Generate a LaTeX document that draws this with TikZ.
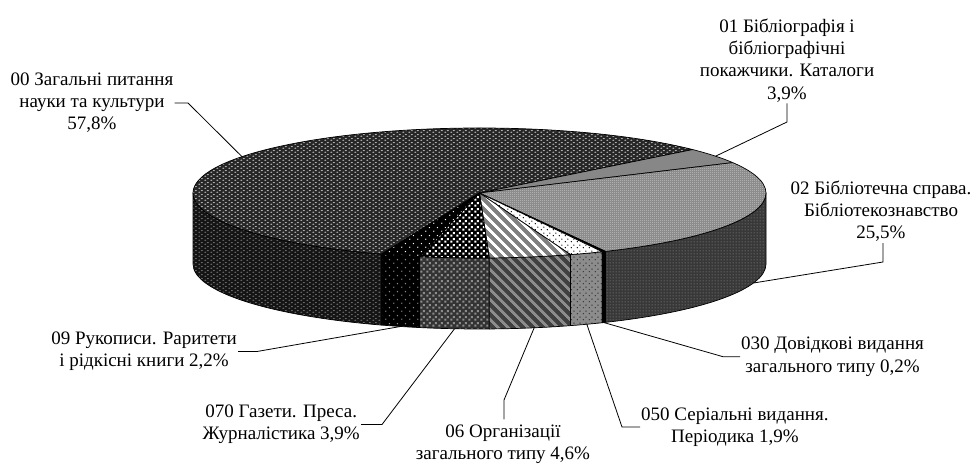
\documentclass[tikz,border=0pt]{standalone}
\usepackage{fontspec}
\setmainfont{Liberation Serif}
\usetikzlibrary{patterns, patterns.meta, calc}

% fill patterns of the slices
\tikzdeclarepattern{name=stagdots, type=uncolored,
  bounding box={(0pt,0pt) and (6pt,4pt)}, tile size={(6pt,4pt)},
  code={\fill (1.5pt,1pt) ellipse (1.3pt and 0.8pt); \fill (4.5pt,3pt) ellipse (1.3pt and 0.8pt);}}
\tikzdeclarepattern{name=finecheck, type=uncolored,
  bounding box={(0pt,0pt) and (2pt,2pt)}, tile size={(2pt,2pt)},
  code={\fill (0pt,0pt) rectangle (1pt,1pt); \fill (1pt,1pt) rectangle (2pt,2pt);}}
\tikzdeclarepattern{name=finedots, type=uncolored,
  bounding box={(0pt,0pt) and (3pt,3pt)}, tile size={(3pt,3pt)},
  code={\fill (1.5pt,1.5pt) circle (0.7pt);}}
\tikzdeclarepattern{name=sparsedots, type=uncolored,
  bounding box={(0pt,0pt) and (6pt,6pt)}, tile size={(6pt,6pt)},
  code={\fill (1.5pt,1.5pt) circle (0.8pt); \fill (4.5pt,4.5pt) circle (0.8pt);}}
\tikzdeclarepattern{name=bigsquares, type=uncolored,
  bounding box={(0pt,0pt) and (6pt,6pt)}, tile size={(6pt,6pt)},
  code={\fill (0.3pt,0.3pt) rectangle (2.7pt,2.7pt); \fill (3.3pt,3.3pt) rectangle (5.7pt,5.7pt);}}
\tikzdeclarepattern{name=widedots, type=uncolored,
  bounding box={(0pt,0pt) and (8pt,8pt)}, tile size={(8pt,8pt)},
  code={\fill (2pt,2pt) circle (0.8pt); \fill (6pt,6pt) circle (0.8pt);}}
\tikzdeclarepattern{name=stripes, type=uncolored,
  bounding box={(0pt,0pt) and (7pt,7pt)}, tile size={(7pt,7pt)},
  tile transformation={rotate=-45},
  code={\fill (0pt,0pt) rectangle (7pt,3pt);}}

\tikzset{
  edge/.style={draw=black, line width=0.7pt, line join=round},
  top00/.style={edge, preaction={fill=black!85}, pattern=stagdots, pattern color=black!25},
  side00/.style={edge, preaction={fill=black!92}, pattern=stagdots, pattern color=black!55},
  top01/.style={edge, fill=black!47},
  top02/.style={edge, preaction={fill=black!50}, pattern=finecheck, pattern color=black!12},
  side02/.style={edge, preaction={fill=black!78}, pattern=finedots, pattern color=black!50},
  top030/.style={edge, fill=black},
  side030/.style={edge, fill=black},
  top050/.style={edge, preaction={fill=white}, pattern=sparsedots, pattern color=black},
  side050/.style={edge, preaction={fill=black!45}, pattern=sparsedots, pattern color=black!80},
  top06/.style={edge, preaction={fill=black!50}, pattern=stripes, pattern color=white},
  side06/.style={edge, preaction={fill=black!75}, pattern=stripes, pattern color=black!45},
  top070/.style={edge, preaction={fill=black}, pattern=bigsquares, pattern color=white},
  side070/.style={edge, preaction={fill=black!80}, pattern=bigsquares, pattern color=black!45},
  top09/.style={edge, preaction={fill=black}, pattern=widedots, pattern color=white},
  side09/.style={edge, preaction={fill=black}, pattern=widedots, pattern color=black!45},
  lbl/.style={align=center, inner sep=1pt, font=\fontsize{19}{22.3}\selectfont},
  lead/.style={draw, line width=0.8pt},
}

\begin{document}
\begin{tikzpicture}[x=1pt, y=1pt]

    \def \rx {286.5pt}
    \def \ry {65pt}
    \def \depth {71}

    \useasboundingbox (0,0) rectangle (973,465);

    \begin{scope}[shift={(479.5,272)}]
      % walls of the front half
      \foreach \s/\a/\b in {00/180/250, 09/250/257.92, 070/257.92/271.96, 06/271.96/288.52,
                            050/288.52/295.36, 030/295.36/296.08, 02/296.08/360}
      {
        \draw[side\s] (\a:286.5pt and 65pt) arc[start angle=\a, end angle=\b, x radius=\rx, y radius=\ry]
          -- ++(0,-\depth) arc[start angle=\b, end angle=\a, x radius=\rx, y radius=\ry] -- cycle;
      }
      % top faces
      \foreach \s/\a/\b in {00/41.92/250, 01/27.88/41.92, 02/-63.92/27.88, 030/-64.64/-63.92,
                            050/-71.48/-64.64, 06/-88.04/-71.48, 070/-102.08/-88.04, 09/-110/-102.08}
      {
        \draw[top\s] (0,0) -- (\a:286.5pt and 65pt) arc[start angle=\a, end angle=\b, x radius=\rx, y radius=\ry] -- cycle;
      }
      % where the leaders touch the pie
      \coordinate (p00) at (146:286.5pt and 65pt);
      \coordinate (p01) at (34.5:286.5pt and 65pt);
      \path (-17:286.5pt and 65pt) ++(0,-\depth) coordinate (p02);
      \path (-64.28:286.5pt and 65pt) ++(0,-\depth) coordinate (p030);
      \path (-68:286.5pt and 65pt) ++(0,-\depth) coordinate (p050);
      \path (-79:286.5pt and 65pt) ++(0,-\depth) coordinate (p06);
      \path (-95:286.5pt and 65pt) ++(0,-\depth) coordinate (p070);
      \path (-106:286.5pt and 65pt) ++(0,-\depth) coordinate (p09);
    \end{scope}

    % labels
    \node[lbl] (l00) at (92,362.5) {00 Загальні питання\\науки та культури\\57,8\%};
    \node[lbl] (l01) at (787,404.5) {01 Бібліографія і\\бібліографічні\\покажчики. Каталоги\\3,9\%};
    \node[lbl] (l02) at (881,253.7) {02 Бібліотечна справа.\\Бібліотекознавство\\25,5\%};
    \node[lbl, anchor=west] (l030) at (740,108.3) {030 Довідкові видання\\загального типу 0,2\%};
    \node[lbl, anchor=west] (l050) at (640,38) {050 Серіальні видання.\\Періодика 1,9\%};
    \node[lbl, inner ysep=5pt] (l06) at (503,20.8) {06 Організації\\загального типу 4,6\%};
    \node[lbl, anchor=east] (l070) at (361,40.5) {070 Газети. Преса.\\Журналістика 3,9\%};
    \node[lbl, anchor=east] (l09) at (238,113.5) {09 Рукописи. Раритети\\і рідкісні книги 2,2\%};

    % bends of the leaders
    \coordinate (k00) at (188,362);
    \coordinate (k01) at (787,343);
    \coordinate (k02) at (883,203);
    \coordinate (k030) at (723,108.3);
    \coordinate (k050) at (622,38);
    \coordinate (k06) at (504,65);
    \coordinate (k070) at (382,40.5);
    \coordinate (k09) at (257,113.5);

    \draw[lead] (p00) -- (k00) -- (l00.east |- k00);
    \draw[lead] (p01) -- (k01) -- (l01.south -| k01);
    \draw[lead] (p02) -- (k02) -- (l02.south -| k02);
    \draw[lead] (p030) -- (k030) -- (l030.west);
    \draw[lead] (p050) -- (k050) -- (l050.west);
    \draw[lead] (p06) -- (k06) -- (l06.north -| k06);
    \draw[lead] (p070) -- (k070) -- (l070.east);
    \draw[lead] (p09) -- (k09) -- (l09.east);

\end{tikzpicture}
\end{document}
